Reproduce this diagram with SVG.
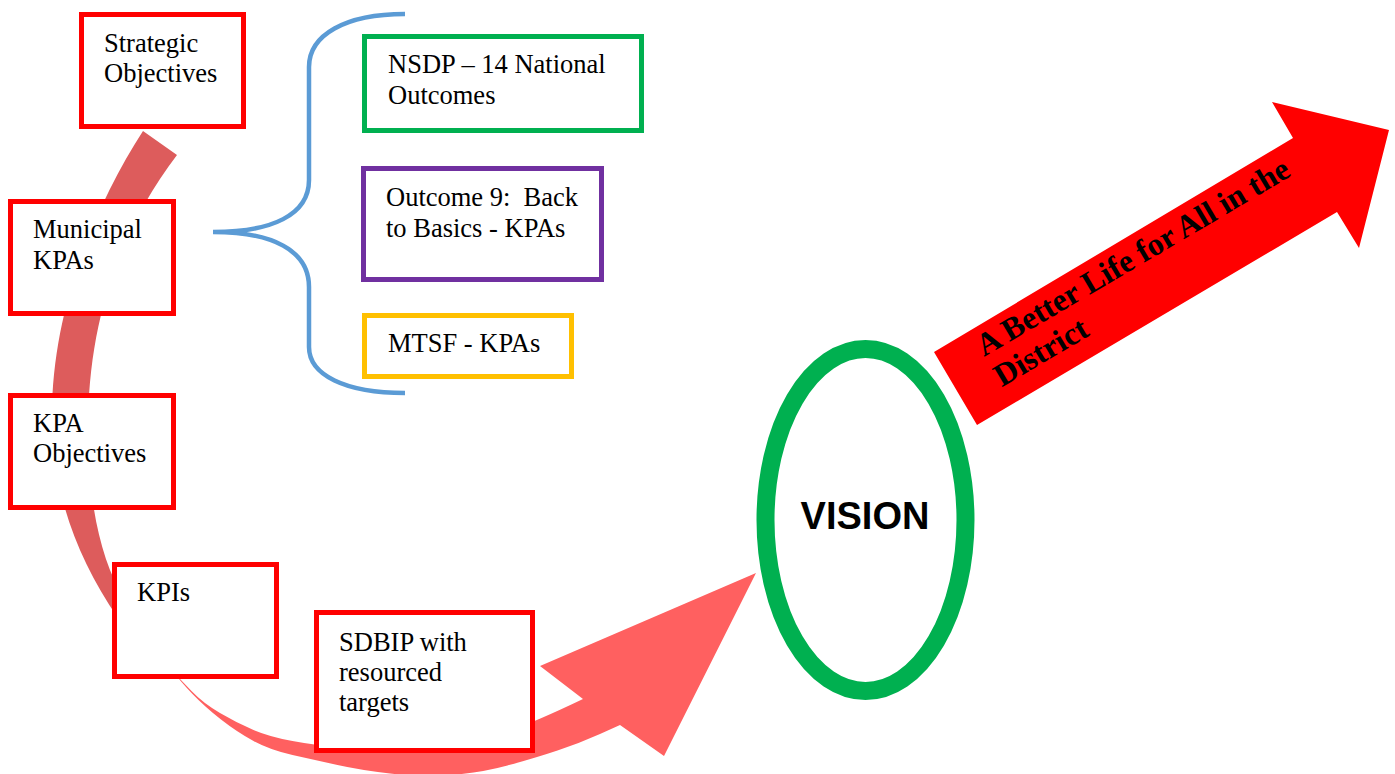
<svg xmlns="http://www.w3.org/2000/svg" width="1395" height="774" viewBox="0 0 1395 774">
<style>
.box{fill:#fff;stroke-width:5}
.red{stroke:#FF0000}
.t{font-family:"Liberation Serif","Times New Roman",serif;font-size:26.5px;fill:#000}
</style>
<rect width="1395" height="774" fill="#fff"/>
<g id="connectors">
<path id="upper-band" fill="#DD5C5C" d="M143,131 L177,155 C120,230 88,320 88,430 C88,500 100,560 125,600 L118,618 C75,555 52,490 52,415 C52,310 95,205 143,131 Z"/>
<path id="lower-arrow" fill="#FF6060" d="M172,670 L180,679 L191.5,691 Q203,703 220,713 Q237,723 253.5,730 Q270,737 292.5,741 Q315,745 342.5,748 Q370,751 395,751.5 Q420,752 450,746.5 Q480,741 507.5,731.5 Q535,722 583,699 L540,666 L756,573 L664,756 L620,725 L600,734 Q580,743 557.5,750.5 Q535,758 507.5,765.5 Q480,773 450,775 Q420,777 390,773.5 Q360,770 337.5,765 Q315,760 292.5,755 Q270,750 253.5,741 Q237,732 221,719.5 Q205,707 192.5,694 Q180,681 172,670 Z"/>
<path id="brace" fill="none" stroke="#5B9BD5" stroke-width="4.5" d="M405,14 C345,14 309,35 309,67 L309,180 C309,215 272,232 213,232 C272,232 309,250 309,287 L309,347 C309,375 345,393 405,393"/>
</g>
<g id="strategic-objectives">
<rect class="box red" x="81.5" y="14.5" width="162" height="112"/>
<text class="t" x="104" y="52">Strategic</text>
<text class="t" x="104" y="82">Objectives</text>
</g>
<g id="municipal-kpas">
<rect class="box red" x="10.5" y="201.5" width="163" height="112"/>
<text class="t" x="33" y="238">Municipal</text>
<text class="t" x="33" y="269">KPAs</text>
</g>
<g id="kpa-objectives">
<rect class="box red" x="10.5" y="395.5" width="163" height="112"/>
<text class="t" x="33" y="432">KPA</text>
<text class="t" x="33" y="462">Objectives</text>
</g>
<g id="kpis">
<rect class="box red" x="114.5" y="564.5" width="162" height="112"/>
<text class="t" x="137" y="601">KPIs</text>
</g>
<g id="sdbip">
<rect class="box red" x="316.5" y="612.5" width="216" height="138"/>
<text class="t" x="339" y="651">SDBIP with</text>
<text class="t" x="339" y="681">resourced</text>
<text class="t" x="339" y="711">targets</text>
</g>
<g id="nsdp">
<rect class="box" stroke="#00B050" x="364.5" y="36.5" width="277" height="94"/>
<text class="t" x="388" y="73">NSDP – 14 National</text>
<text class="t" x="388" y="104">Outcomes</text>
</g>
<g id="outcome9">
<rect class="box" stroke="#7030A0" x="363.5" y="168.5" width="238" height="111"/>
<text class="t" x="386" y="206" xml:space="preserve">Outcome 9:  Back</text>
<text class="t" x="386" y="237">to Basics - KPAs</text>
</g>
<g id="mtsf">
<rect class="box" stroke="#FFC000" x="364.5" y="315.5" width="207" height="61"/>
<text class="t" x="388" y="352">MTSF - KPAs</text>
</g>
<g id="vision">
<ellipse cx="865.5" cy="520" rx="100" ry="171" fill="#fff" stroke="#00B050" stroke-width="18"/>
<text x="865" y="529" text-anchor="middle" font-family="'Liberation Sans',Arial,sans-serif" font-weight="bold" font-size="38px" fill="#000">VISION</text>
</g>
<g id="better-life">
<polygon fill="#FF0000" points="934,352 1293,138 1272,102 1389,130 1359,248 1337,212 977,425"/>
<g transform="translate(984,357) rotate(-30.5)" font-family="'Liberation Serif','Times New Roman',serif" font-weight="bold" font-size="32px" fill="#000">
<text x="0" y="0">A Better Life for All in the</text>
<text x="0" y="35">District</text>
</g>
</g>
</svg>
